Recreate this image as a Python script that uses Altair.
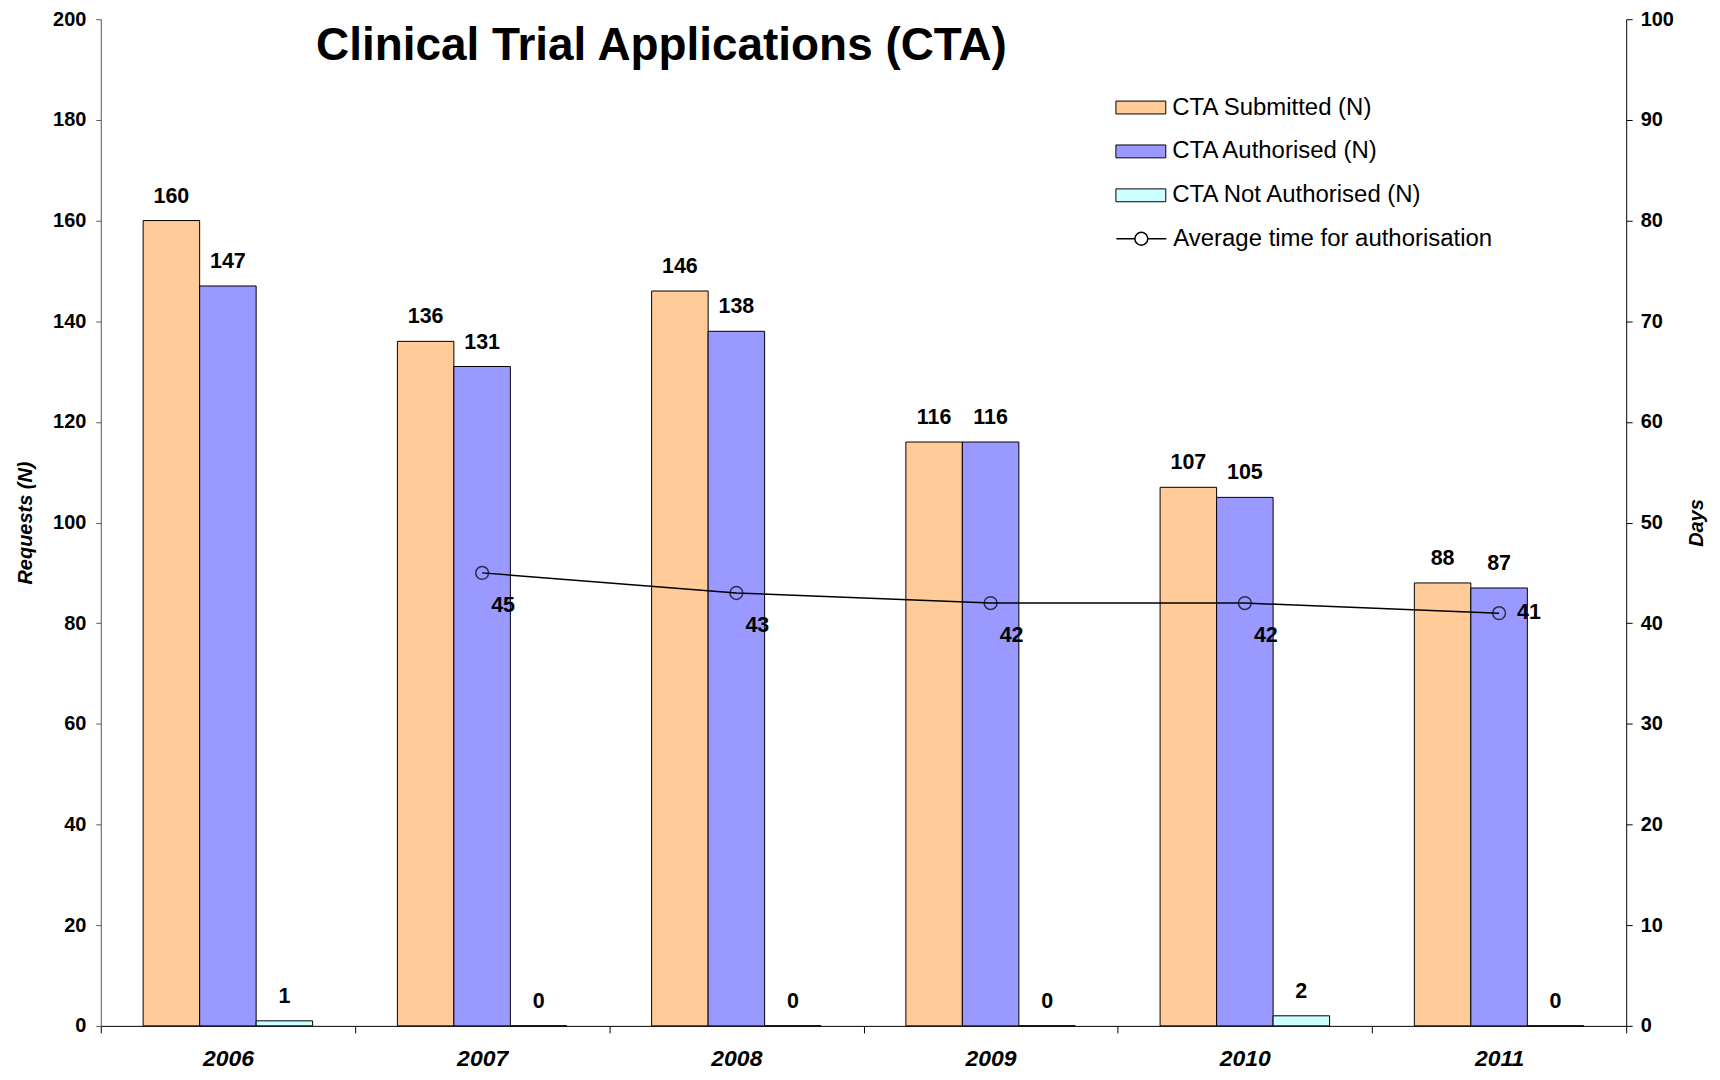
import altair as alt
import pandas as pd

years = ["2006", "2007", "2008", "2009", "2010", "2011"]
submitted = [160, 136, 146, 116, 107, 88]
authorised = [147, 131, 138, 116, 105, 87]
not_authorised = [1, 0, 0, 0, 2, 0]
avg_days = [None, 45, 43, 42, 42, 41]

series_names = ["CTA Submitted (N)", "CTA Authorised (N)", "CTA Not Authorised (N)"]
series_colors = ["#FFCC99", "#9999FF", "#CCFFFF"]
line_name = "Average time for authorisation"
title_text = "Clinical Trial Applications (CTA)"

rows = []
for name, vals in zip(series_names, [submitted, authorised, not_authorised]):
    for yr, v in zip(years, vals):
        rows.append({"year": yr, "series": name, "value": v})
bars_df = pd.DataFrame(rows)
line_df = pd.DataFrame({"year": years, "days": avg_days, "name": line_name}).dropna()
title_df = pd.DataFrame({"t": [title_text]})

FONT = "Liberation Sans"
W, H = 1529, 1009

rect_path = "M-1.667,-0.43H1.667V0.43H-1.667Z"
line_path = ("M-1.667,0H-0.43M0.43,0H1.667M-0.43,0A0.43,0.43 0 1,1 0.43,0"
             "A0.43,0.43 0 1,1 -0.43,0")

x_enc = alt.X(
    "year:N", sort=years,
    scale=alt.Scale(paddingInner=0, paddingOuter=0),
    axis=alt.Axis(title=None, labelFont=FONT, labelFontSize=23, labelFontWeight="bold",
                  labelFontStyle="italic", labelColor="black", labelAngle=0,
                  tickBand="extent", tickSize=7, tickColor="black", domainColor="black",
                  labelPadding=15, grid=False),
)
xoff = alt.XOffset("series:N", sort=series_names,
                   scale=alt.Scale(paddingInner=0, paddingOuter=0.75))

y_left = alt.Y(
    "value:Q",
    scale=alt.Scale(domain=[0, 200], nice=False),
    axis=alt.Axis(values=list(range(0, 201, 20)), title="Requests (N)", grid=False,
                  labelFont=FONT, labelFontSize=20, labelFontWeight="bold", labelColor="black",
                  tickSize=5, tickColor="#555555", domainColor="#555555", labelPadding=10,
                  titleFont=FONT, titleFontSize=20, titleFontWeight="bold",
                  titleFontStyle="italic", titleColor="black", titlePadding=17),
)

bars = alt.Chart(bars_df).mark_bar(stroke="black", strokeWidth=1).encode(
    x=x_enc, xOffset=xoff, y=y_left,
    fill=alt.Fill("series:N", sort=series_names,
                  scale=alt.Scale(domain=series_names, range=series_colors),
                  legend=alt.Legend(orient="none", legendX=1027, legendY=73, title=None,
                                    symbolType=rect_path, symbolSize=900,
                                    symbolStrokeColor="black", symbolStrokeWidth=1,
                                    labelFont=FONT, labelFontSize=24, labelColor="black",
                                    labelLimit=0, labelOffset=16, rowPadding=16, padding=0)),
)

bar_labels = alt.Chart(bars_df).mark_text(
    dy=-18, baseline="alphabetic", font=FONT, fontSize=21.5, fontWeight="bold", color="black"
).encode(x=x_enc, xOffset=xoff, y=y_left, text="value:Q")

y_right = alt.Y(
    "days:Q",
    scale=alt.Scale(domain=[0, 100], nice=False),
    axis=alt.Axis(orient="right", values=list(range(0, 101, 10)), title="Days", grid=False,
                  labelFont=FONT, labelFontSize=20, labelFontWeight="bold", labelColor="black",
                  tickSize=6, tickColor="black", domainColor="black", labelPadding=8,
                  titleFont=FONT, titleFontSize=20, titleFontWeight="bold",
                  titleFontStyle="italic", titleColor="black", titlePadding=33,
                  titleAngle=270),
)

line = alt.Chart(line_df).mark_line(strokeWidth=1.5).encode(
    x=x_enc, y=y_right,
    stroke=alt.Stroke("name:N", scale=alt.Scale(domain=[line_name], range=["black"]),
                      legend=alt.Legend(orient="none", legendX=1027, legendY=204, title=None,
                                        symbolType=line_path, symbolSize=900,
                                        symbolStrokeColor="black", symbolStrokeWidth=1.5,
                                        symbolFillColor="transparent",
                                        labelFont=FONT, labelFontSize=24, labelColor="black",
                                        labelLimit=0, labelOffset=16, padding=0)),
)

points = alt.Chart(line_df).mark_point(
    shape="circle", filled=False, size=165, color="black", strokeWidth=1.5
).encode(x=x_enc, y=y_right)

line_labels = alt.Chart(line_df).transform_filter(alt.datum.year != "2011").mark_text(
    dx=21, dy=33, baseline="middle", font=FONT, fontSize=21.5, fontWeight="bold", color="black"
).encode(x=x_enc, y=y_right, text="days:Q")

line_label_last = alt.Chart(line_df).transform_filter(alt.datum.year == "2011").mark_text(
    dx=18, dy=0, align="left", baseline="middle", font=FONT, fontSize=21.5,
    fontWeight="bold", color="black"
).encode(x=x_enc, y=y_right, text="days:Q")

title = alt.Chart(title_df).mark_text(
    font=FONT, fontSize=46, fontWeight="bold", color="black", baseline="middle"
).encode(x=alt.value(562), y=alt.value(27), text="t:N")

bar_layer = alt.layer(bars, bar_labels, title)
line_layer = alt.layer(line, points, line_labels, line_label_last)

chart = alt.layer(bar_layer, line_layer).resolve_scale(y="independent").properties(
    width=W, height=H,
    padding={"left": 7, "top": 0, "right": 5, "bottom": 5},
    background="white",
).configure_view(stroke=None)

chart.save("out.html", embed_options={"renderer": "svg", "actions": False})
